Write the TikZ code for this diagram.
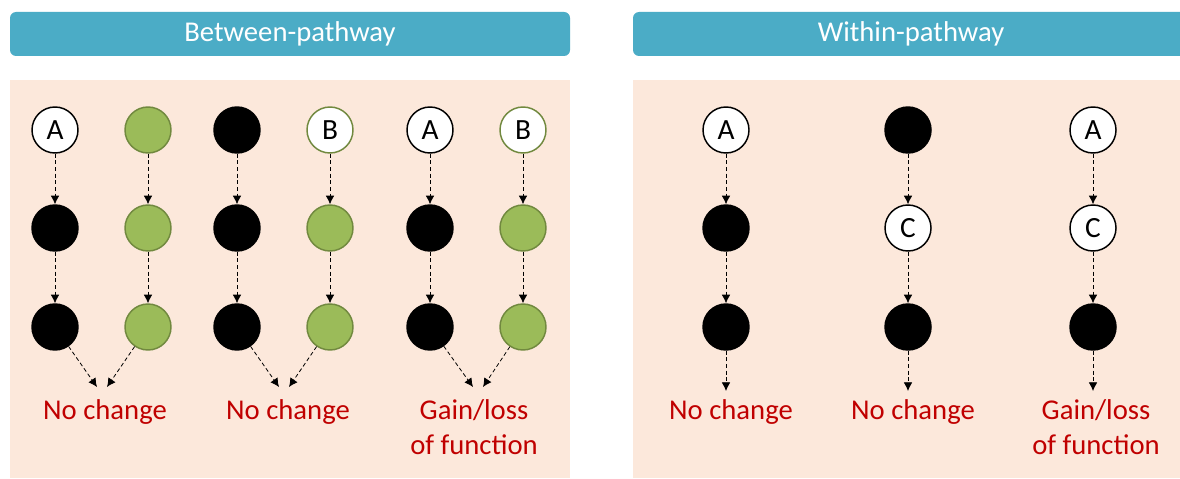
\documentclass[tikz,border=0pt]{standalone}
\usepackage{fontspec}
\setmainfont{Carlito}
\usetikzlibrary{arrows.meta}
\definecolor{hdr}{HTML}{4BACC6}
\definecolor{panel}{HTML}{FCE8DB}
\definecolor{grn}{HTML}{9BBB59}
\definecolor{grnd}{HTML}{71893F}
\definecolor{lbl}{HTML}{C00000}
\tikzset{
  px/.style={x=0.75pt,y=-0.75pt},
  header/.style={fill=hdr,rounded corners=4.5pt,draw=none},
  hdrtext/.style={text=white,font=\fontsize{21.5}{24}\selectfont},
  panelbox/.style={fill=panel,draw=none},
  nd/.style={circle,minimum size=34.5pt,inner sep=0pt,line width=1.1pt,font=\fontsize{22}{24}\selectfont},
  blk/.style={nd,fill=black,draw=black},
  gr/.style={nd,fill=grn,draw=grnd},
  wh/.style={nd,fill=white,draw=black},
  whg/.style={nd,fill=white,draw=grnd},
  conn/.style={densely dashed,line width=0.6pt,-{Latex[length=6.5pt,width=6.5pt]}},
  res/.style={text=lbl,font=\fontsize{21.5}{24}\selectfont,align=center,inner sep=0pt}
}
\begin{document}
\begin{tikzpicture}[px]
\useasboundingbox (0,0) rectangle (1180,478);
\fill[white] (0,0) rectangle (1180,478);
% headers and panels
\fill[header] (10,12) rectangle (570,56);
\fill[header] (633,12) rectangle (1186,56);
\node[hdrtext] (h1) at (290,34) {Between-pathway};
\node[hdrtext] (h2) at (911,34) {Within-pathway};
\fill[panelbox] (10,80) rectangle (570,478);
\fill[panelbox] (633,80) rectangle (1180,478);

% Between-pathway group 1
\node[wh]  (a1) at (55,130) {A};
\node[blk] (a2) at (55,228) {};
\node[blk] (a3) at (55,327) {};
\node[gr]  (b1) at (148,130) {};
\node[gr]  (b2) at (148,228) {};
\node[gr]  (b3) at (148,327) {};
% group 2
\node[blk] (c1) at (237,130) {};
\node[blk] (c2) at (237,228) {};
\node[blk] (c3) at (237,327) {};
\node[whg] (d1) at (330,130) {B};
\node[gr]  (d2) at (330,228) {};
\node[gr]  (d3) at (330,327) {};
% group 3
\node[wh]  (e1) at (430,130) {A};
\node[blk] (e2) at (430,228) {};
\node[blk] (e3) at (430,327) {};
\node[whg] (f1) at (523,130) {B};
\node[gr]  (f2) at (523,228) {};
\node[gr]  (f3) at (523,327) {};

\foreach \n in {a,b,c,d,e,f}{
  \draw[conn] (\n1) -- (\n2);
  \draw[conn] (\n2) -- (\n3);
}
\coordinate (t1l) at (97,387);
\coordinate (t1r) at (107,387);
\coordinate (t2l) at (279,387);
\coordinate (t2r) at (289,387);
\coordinate (t3l) at (473,387);
\coordinate (t3r) at (483,387);
\draw[conn] (a3) -- (t1l);
\draw[conn] (b3) -- (t1r);
\draw[conn] (c3) -- (t2l);
\draw[conn] (d3) -- (t2r);
\draw[conn] (e3) -- (t3l);
\draw[conn] (f3) -- (t3r);
\node[res] (r1) at (105,412) {No change};
\node[res] (r2) at (288,412) {No change};
\node[res,anchor=north] (r3) at (474,399) {Gain/loss\\[2.5pt]of function};

% Within-pathway
\node[wh]  (g1) at (726,130) {A};
\node[blk] (g2) at (726,228) {};
\node[blk] (g3) at (726,327) {};
\node[blk] (h1n) at (908,130) {};
\node[wh]  (h2n) at (908,228) {C};
\node[blk] (h3n) at (908,327) {};
\node[wh]  (i1) at (1093,130) {A};
\node[wh]  (i2) at (1093,228) {C};
\node[blk] (i3) at (1093,327) {};
\draw[conn] (g1) -- (g2);
\draw[conn] (g2) -- (g3);
\draw[conn] (h1n) -- (h2n);
\draw[conn] (h2n) -- (h3n);
\draw[conn] (i1) -- (i2);
\draw[conn] (i2) -- (i3);
\coordinate (u1) at (726,391);
\coordinate (u2) at (908,391);
\coordinate (u3) at (1093,391);
\draw[conn] (g3) -- (u1);
\draw[conn] (h3n) -- (u2);
\draw[conn] (i3) -- (u3);
\node[res] (s1) at (731,412) {No change};
\node[res] (s2) at (913,412) {No change};
\node[res,anchor=north] (s3) at (1096,399) {Gain/loss\\[2.5pt]of function};
\end{tikzpicture}
\end{document}
